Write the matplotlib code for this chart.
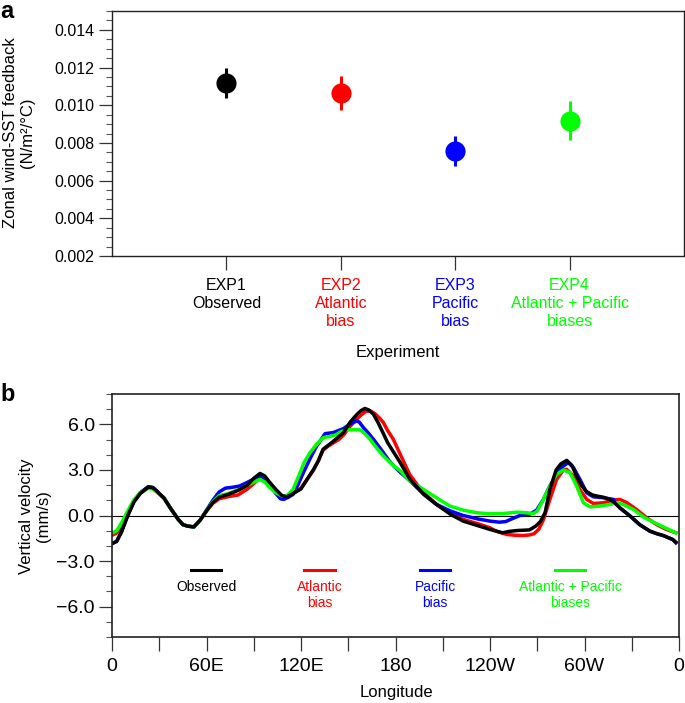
import matplotlib
matplotlib.use("Agg")
import matplotlib.pyplot as plt
from matplotlib.ticker import MultipleLocator, FuncFormatter, FixedLocator

plt.rcParams['font.family'] = ['Liberation Sans', 'DejaVu Sans']

# ---------------- Panel a data ----------------
experiments = ["EXP1\nObserved", "EXP2\nAtlantic\nbias", "EXP3\nPacific\nbias",
               "EXP4\nAtlantic + Pacific\nbiases"]
exp_colors = ["#000000", "#FF0000", "#0000FF", "#00FF00"]
feedback = [0.01119, 0.01066, 0.00757, 0.00918]
feedback_err = [0.0008, 0.0009, 0.0008, 0.00105]

# ---------------- Panel b data ----------------
lon_obs = [0, 3, 6, 10, 14, 18, 23, 26, 29, 33, 37, 42, 45, 48, 52, 56, 60, 64, 68, 74, 80, 86, 90,
           94, 97, 100, 104, 108, 111, 115, 120, 124, 128, 131, 134, 137, 140, 144, 147, 151, 155,
           158, 160.6, 163, 166, 169, 172, 175, 179, 183, 189, 194, 198, 206, 215, 223, 232, 240,
           248, 252, 257, 265, 269, 272, 275, 278, 282, 285, 288.7, 292, 295, 298, 301, 305, 308,
           312, 316, 319, 322.5, 329, 335, 341.5, 346, 350, 356, 358]
w_obs = [-1.85, -1.7, -1.1, 0.0, 0.9, 1.45, 1.87, 1.83, 1.55, 1.15, 0.5, -0.25, -0.6, -0.7, -0.75,
         -0.3, 0.3, 0.85, 1.2, 1.4, 1.65, 2.0, 2.45, 2.77, 2.6, 2.2, 1.72, 1.3, 1.23, 1.45, 1.75,
         2.4, 3.04, 3.6, 4.36, 4.6, 4.84, 5.2, 5.46, 6.12, 6.6, 6.9, 7.05, 6.95, 6.67, 6.1, 5.46,
         4.8, 4.14, 3.48, 2.4, 1.85, 1.39, 0.73, 0.07, -0.37, -0.66, -0.92, -1.14, -1.05, -0.99,
         -0.95, -0.7, -0.4, 0.2, 1.72, 3.0, 3.4, 3.63, 3.3, 2.6, 2.0, 1.6, 1.35, 1.28, 1.2, 1.06,
         0.85, 0.5, -0.04, -0.6, -1.03, -1.2, -1.32, -1.58, -1.75]

lon_atl = [0, 3, 6, 10, 14, 18, 23, 26, 29, 33, 37, 42, 45, 48, 52, 56, 60, 64, 68, 74, 80, 86, 90,
           94, 97, 100, 104, 108, 111, 115, 120, 124, 128, 131, 134, 137, 140, 144, 147, 151, 155,
           158, 161, 164, 167, 170, 172.3, 175, 178.6, 183, 189, 194, 198, 206, 215, 223, 232, 240,
           244, 250.7, 256, 261, 265, 268, 271, 274, 278, 282.3, 286.6, 288.7, 293, 297, 301.4,
           305.6, 312, 318, 322.5, 327, 333, 339.5, 345.8, 352, 358]
w_atl = [-1.3, -1.15, -0.7, 0.1, 0.95, 1.5, 1.85, 1.8, 1.5, 1.15, 0.5, -0.25, -0.6, -0.7, -0.75,
         -0.3, 0.3, 0.8, 1.1, 1.25, 1.35, 1.75, 2.1, 2.5, 2.35, 2.0, 1.6, 1.3, 1.25, 1.45, 1.8, 2.4,
         3.0, 3.6, 4.3, 4.55, 4.75, 5.0, 5.3, 5.85, 6.3, 6.6, 6.85, 6.89, 6.7, 6.4, 6.12, 5.6, 5.02,
         4.03, 2.7, 2.0, 1.5, 0.73, 0.18, -0.26, -0.53, -0.81, -1.03, -1.25, -1.3, -1.32, -1.28,
         -1.2, -0.9, -0.26, 1.06, 2.38, 3.0, 3.04, 2.6, 1.72, 1.06, 0.79, 0.84, 1.01, 1.06, 0.84,
         0.4, -0.15, -0.6, -0.92, -1.14]

lon_pac = [0, 3, 6, 10, 14, 18, 23, 26, 29, 33, 37, 42, 45, 48, 52, 56, 60, 64, 68, 72, 76, 81,
           85.5, 90, 94, 97, 100, 104, 107, 109, 112, 115, 118, 121.5, 126, 130, 135.3, 140.5,
           146.9, 151, 155.4, 157, 159.6, 163, 166, 172.3, 176, 179, 183, 189, 198, 206, 215, 223,
           232, 240, 246, 250, 253, 259, 265.5, 269.6, 273.9, 278, 282.3, 286.6, 289.7, 293,
           297.1, 301.4, 305.6, 312, 318.3, 322.5, 329, 335, 341.5, 346, 350, 356, 358]
w_pac = [-1.85, -1.7, -1.05, 0.0, 0.95, 1.5, 1.9, 1.85, 1.55, 1.15, 0.5, -0.25, -0.6, -0.7, -0.75,
         -0.3, 0.35, 1.0, 1.55, 1.8, 1.85, 1.94, 2.16, 2.4, 2.6, 2.4, 2.0, 1.45, 1.1, 1.06, 1.2,
         1.39, 2.0, 2.82, 3.8, 4.58, 5.39, 5.46, 5.72, 6.01, 6.23, 6.15, 5.79, 5.4, 5.02, 4.14, 3.6,
         3.25, 2.85, 2.3, 1.39, 0.73, 0.29, 0.0, -0.22, -0.37, -0.44, -0.4, -0.26, 0.0, 0.1, 0.35,
         1.06, 1.94, 2.71, 3.26, 3.48, 3.15, 2.38, 1.5, 1.23, 1.17, 1.06, 0.5, -0.04, -0.6, -1.03,
         -1.2, -1.32, -1.58, -1.8]

lon_both = [0, 3, 6, 10, 14, 18, 23, 26, 29, 33, 37, 42, 45, 48, 52, 56, 60, 64, 68, 74, 81, 86,
            90, 94, 97, 100, 104, 108, 111, 115, 119.4, 122, 125.7, 130, 134.2, 138.4, 142, 145,
            149, 153, 157.5, 160, 163.8, 168, 172.3, 176, 179, 183, 189, 197.7, 206, 214.6, 223,
            231.6, 240, 248.5, 257, 263, 267.5, 270, 273.9, 278, 282.3, 286.6, 290.8, 295, 299.3,
            303.5, 309.8, 316.2, 320.4, 324.6, 331, 337.3, 343.6, 350, 358]
w_both = [-1.15, -1.0, -0.5, 0.3, 1.05, 1.5, 1.78, 1.75, 1.5, 1.15, 0.5, -0.25, -0.6, -0.7, -0.75,
          -0.3, 0.3, 0.9, 1.3, 1.45, 1.72, 2.0, 2.2, 2.38, 2.2, 1.85, 1.5, 1.28, 1.3, 1.72, 2.82,
          3.5, 4.14, 4.7, 5.13, 5.2, 5.3, 5.5, 5.64, 5.65, 5.64, 5.45, 5.02, 4.45, 3.92, 3.55, 3.25,
          2.95, 2.27, 1.72, 1.17, 0.62, 0.35, 0.18, 0.11, 0.13, 0.22, 0.18, 0.13, 0.29, 1.06, 1.94,
          2.71, 3.0, 2.82, 1.94, 0.84, 0.57, 0.62, 0.73, 0.84, 0.73, 0.4, -0.09, -0.44, -0.75, -1.14]

series_labels = ["Observed", "Atlantic\nbias", "Pacific\nbias", "Atlantic + Pacific\nbiases"]
lon_ticks = [0, 30, 60, 90, 120, 150, 180, 210, 240, 270, 300, 330, 360]
lon_ticklabels = ["0", "", "60E", "", "120E", "", "180", "", "120W", "", "60W", "", "0"]

W, H = 685, 703
fig = plt.figure(figsize=(W / 100, H / 100), dpi=100)

def fx(px):
    return px / W

def fy(py):
    return 1 - py / H

# ---------------- Panel a ----------------
axa = fig.add_axes([fx(112), fy(256), fx(684) - fx(112), fy(11) - fy(256)])
xpos = list(range(1, len(experiments) + 1))
for x, v, e, c in zip(xpos, feedback, feedback_err, exp_colors):
    axa.errorbar([x], [v], yerr=[e], fmt='o', color=c, markersize=14.5, elinewidth=2.2,
                 capsize=0, markeredgewidth=0)
axa.set_xlim(0, 5)
axa.set_ylim(0.002, 0.015)
axa.yaxis.set_major_locator(FixedLocator([0.002, 0.004, 0.006, 0.008, 0.010, 0.012, 0.014]))
axa.yaxis.set_minor_locator(MultipleLocator(0.0005))
axa.yaxis.set_major_formatter(FuncFormatter(lambda v, p: f"{v:.3f}"))
axa.set_xticks(xpos)
axa.set_xticklabels(experiments, fontsize=11.5, linespacing=1.25)
for lab, c in zip(axa.get_xticklabels(), exp_colors):
    lab.set_color(c)
axa.tick_params(axis='y', which='major', direction='out', length=9.5, width=0.9,
                labelsize=11.5, color='#333333', pad=3)
axa.tick_params(axis='y', which='minor', direction='out', length=4.5, width=0.8, color='#555555')
axa.tick_params(axis='x', which='major', direction='out', length=10, width=0.9,
                color='#333333', pad=6)
for s in axa.spines.values():
    s.set_linewidth(1.0)
    s.set_color('#222222')
fig.text(fx(19), fy(133), "Zonal wind-SST feedback\n(N/m²/°C)", rotation=90, ha='center',
         va='center', fontsize=12, linespacing=1.15)
fig.text(fx(398), fy(352), "Experiment", ha='center', va='center', fontsize=12)
fig.text(fx(0), fy(0), "a", ha='left', va='top', fontsize=17, fontweight='bold')

# ---------------- Panel b ----------------
axb = fig.add_axes([fx(112), fy(637), fx(679) - fx(112), fy(394) - fy(637)])
axb.axhline(0, color='black', lw=0.8, zorder=1)
series = [(lon_atl, w_atl, "#FF0000"), (lon_pac, w_pac, "#0000FF"),
          (lon_both, w_both, "#00FF00"), (lon_obs, w_obs, "#000000")]
for lo, w, c in series:
    axb.plot(lo, w, color=c, lw=2.5, solid_joinstyle='round', zorder=2)
axb.set_xlim(0, 360)
axb.set_ylim(-8, 8)
axb.set_xticks(lon_ticks)
axb.set_xticklabels(lon_ticklabels)
axb.yaxis.set_major_locator(FixedLocator([-6, -3, 0, 3, 6]))
axb.yaxis.set_minor_locator(MultipleLocator(1))
axb.yaxis.set_major_formatter(FuncFormatter(lambda v, p: f"{v:.1f}".replace('-', '\u2212')))
axb.tick_params(axis='y', which='major', direction='out', length=9.5, width=0.9,
                labelsize=14, color='#333333', pad=3)
axb.tick_params(axis='y', which='minor', direction='out', length=4.5, width=0.8, color='#555555')
axb.tick_params(axis='x', which='major', direction='out', length=10, width=0.9,
                labelsize=14, color='#333333', pad=5)
for s in axb.spines.values():
    s.set_linewidth(1.2)
    s.set_color('#222222')

leg_x = [0.166, 0.366, 0.570, 0.808]
leg_colors = ["#000000", "#FF0000", "#0000FF", "#00FF00"]
for x, lab, c in zip(leg_x, series_labels, leg_colors):
    axb.plot([x - 0.027, x + 0.027], [0.2757, 0.2757], transform=axb.transAxes, color=c, lw=2.2)
    axb.text(x, 0.236, lab, transform=axb.transAxes, ha='center', va='top', color=c,
             fontsize=10, linespacing=1.2)

fig.text(fx(35), fy(516), "Vertical velocity\n(mm/s)", rotation=90, ha='center', va='center',
         fontsize=12, linespacing=1.2)
fig.text(fx(396), fy(692), "Longitude", ha='center', va='center', fontsize=12)
fig.text(fx(0), fy(383), "b", ha='left', va='top', fontsize=17, fontweight='bold')

fig.savefig("out.png", dpi=100)
